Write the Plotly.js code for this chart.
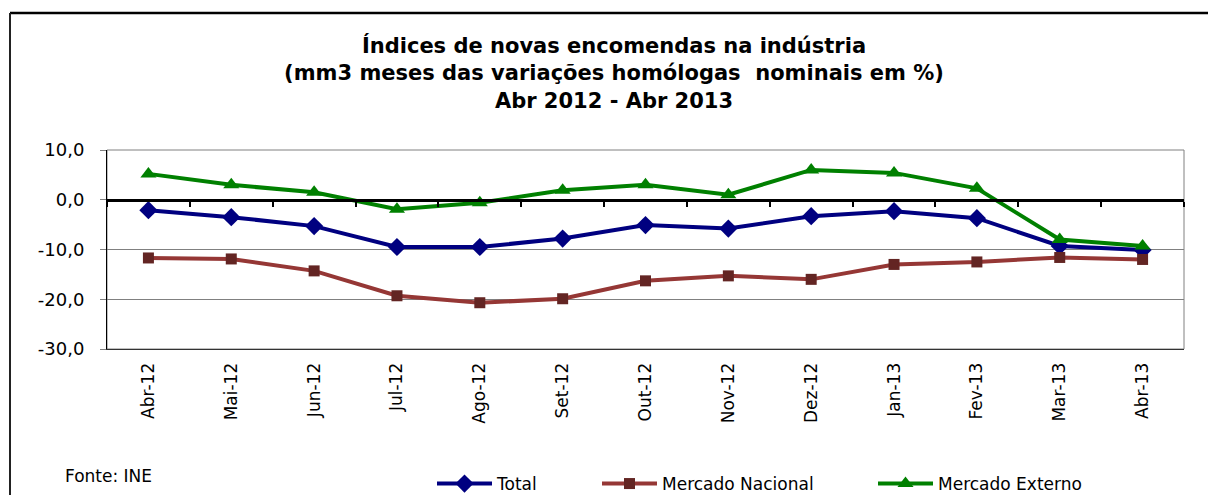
<!DOCTYPE html>
<html>
<head>
<meta charset="utf-8">
<script src="https://cdn.plot.ly/plotly-3.0.1.min.js"></script>
<style>html,body{margin:0;padding:0;background:#fff;}#chart{width:1208px;height:495px;}</style>
</head>
<body>
<div id="chart"></div>
<script>
const categories = ["Abr-12","Mai-12","Jun-12","Jul-12","Ago-12","Set-12","Out-12","Nov-12","Dez-12","Jan-13","Fev-13","Mar-13","Abr-13"];
const total = [-2.1,-3.5,-5.3,-9.5,-9.5,-7.8,-5.1,-5.8,-3.3,-2.3,-3.7,-9.3,-10.1];
const mercadoNacional = [-11.7,-11.9,-14.3,-19.3,-20.7,-19.9,-16.3,-15.3,-16.0,-13.0,-12.5,-11.6,-12.0];
const mercadoExterno = [5.2,3.0,1.5,-1.9,-0.6,1.9,3.0,1.0,6.0,5.4,2.3,-8.0,-9.3];
const yTicks = [10,0,-10,-20,-30];
const yTickLabels = ["10,0","0,0","-10,0","-20,0","-30,0"];
const seriesNames = ["Total","Mercado Nacional","Mercado Externo"];
const titleText = "Índices de novas encomendas na indústria<br>(mm3 meses das variações homólogas  nominais em %)<br>Abr 2012 - Abr 2013";
const sourceText = "Fonte: INE";

const FONT = "DejaVu Sans, Verdana, sans-serif";
const n = categories.length;
const boundaries = Array.from({length: n + 1}, (_, i) => i - 0.5);

const traces = [
  {x: categories, y: total, name: seriesNames[0], type: 'scatter', mode: 'lines+markers',
   line: {color: '#000080', width: 4}, marker: {symbol: 'diamond', size: 14, color: '#000080'}, legend: 'legend'},
  {x: categories, y: mercadoNacional, name: seriesNames[1], type: 'scatter', mode: 'lines+markers',
   line: {color: '#953735', width: 4}, marker: {symbol: 'square', size: 11, color: '#632523'}, legend: 'legend2'},
  {x: categories, y: mercadoExterno, name: seriesNames[2], type: 'scatter', mode: 'lines+markers',
   line: {color: '#008000', width: 4}, marker: {symbol: 'triangle-up', size: 14, color: '#008000'}, legend: 'legend3'},
  {x: [], y: [], xaxis: 'x2', yaxis: 'y', showlegend: false, hoverinfo: 'skip', type: 'scatter', mode: 'lines'}
];

const legendBase = {orientation: 'h', xanchor: 'left', yanchor: 'middle', xref: 'container', yref: 'container',
  y: 1 - 484/495, font: {family: FONT, size: 17, color: '#000'}, bgcolor: 'rgba(0,0,0,0)', itemwidth: 55};

const layout = {
  width: 1208, height: 495,
  margin: {l: 107, r: 24, t: 150, b: 146, autoexpand: false},
  paper_bgcolor: '#fff', plot_bgcolor: '#fff',
  font: {family: FONT, size: 17, color: '#000'},
  title: {text: titleText, font: {family: FONT, size: 21, color: '#000', weight: 'bold'},
          x: 614/1208, xanchor: 'center', xref: 'container', y: 1 - 53/495, yanchor: 'middle', yref: 'container'},
  xaxis: {type: 'category', range: [-0.5, n - 0.5], tickangle: -90, ticks: '', ticklabelstandoff: 6,
          showline: true, linecolor: '#333', linewidth: 1, showgrid: false, zeroline: false, automargin: false,
          tickfont: {family: FONT, size: 17, color: '#000'}, fixedrange: true},
  xaxis2: {overlaying: 'x', anchor: 'free', position: 0.75, type: 'linear', range: [-0.5, n - 0.5],
           tickvals: boundaries, ticks: 'outside', ticklen: 5, tickwidth: 2, tickcolor: '#000',
           showticklabels: false, showline: true, linecolor: '#000', linewidth: 3,
           showgrid: false, zeroline: false, side: 'bottom'},
  yaxis: {range: [-30, 10], tickvals: yTicks, ticktext: yTickLabels, ticks: 'outside', ticklen: 6,
          tickcolor: '#808080', showgrid: true, gridcolor: '#808080', gridwidth: 1, zeroline: false,
          showline: true, linecolor: '#000', linewidth: 1, automargin: false, ticklabelstandoff: 12,
          tickfont: {family: FONT, size: 18, color: '#000'}, fixedrange: true},
  showlegend: true,
  legend: Object.assign({}, legendBase, {x: 432/1208}),
  legend2: Object.assign({}, legendBase, {x: 597/1208}),
  legend3: Object.assign({}, legendBase, {x: 873/1208}),
  annotations: [
    {text: sourceText, xref: 'paper', yref: 'paper', x: (63-107)/1077, y: (349-476)/199, xanchor: 'left', yanchor: 'middle',
     showarrow: false, font: {family: FONT, size: 17, color: '#000'}}
  ],
  shapes: [
    {type: 'rect', xref: 'paper', yref: 'paper', x0: 0, x1: 1, y0: 0, y1: 1, line: {color: '#808080', width: 1}, layer: 'below'},
    {type: 'line', xref: 'paper', yref: 'paper', x0: (10-107)/1077, x1: 1.05, y0: (349-13)/199, y1: (349-13)/199, line: {color: '#000', width: 2.5}},
    {type: 'line', xref: 'paper', yref: 'paper', x0: (10-107)/1077, x1: (10-107)/1077, y0: (349-13)/199, y1: -0.8, line: {color: '#222', width: 2}}
  ]
};

Plotly.newPlot('chart', traces, layout, {staticPlot: true, displayModeBar: false});
</script>
</body>
</html>
